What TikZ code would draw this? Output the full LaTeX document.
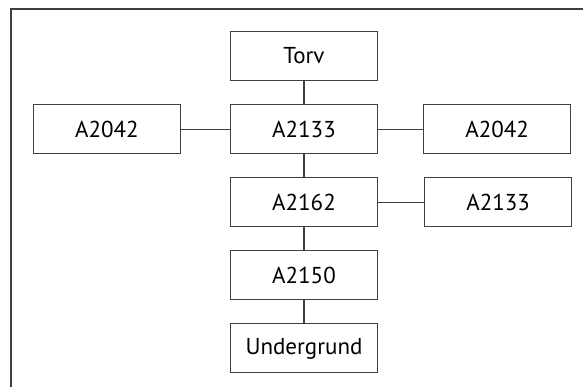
\documentclass[tikz,border=0pt]{standalone}
\usepackage{fontspec}
\setmainfont{PT Sans}
\usepackage{tikz}
\usetikzlibrary{positioning}
\definecolor{linegray}{HTML}{404040}
\tikzstyle{layer} = [rectangle, minimum width=147pt, minimum height=49pt, text centered, draw=linegray, line width=1.1pt, font=\fontsize{23}{27}\selectfont]
\tikzstyle{link} = [draw=linegray, line width=1.1pt]

\begin{document}
\begin{tikzpicture}[x=1pt, y=-1pt, node distance=23pt]
        \useasboundingbox (0,0) rectangle (583,387);
        \draw[link] (11,387) -- (11,9) -- (583,9);

        \node[layer] (torv) at (304,56) {Torv};
        \node[layer, below=of torv] (a2133) {A2133};
        \node[layer, below=of a2133] (a2162) {A2162};
        \node[layer, below=of a2162] (a2150) {A2150};
        \node[layer, below=of a2150] (under) {Undergrund};

        \node[layer, left=49pt of a2133] (a2042l) {A2042};
        \node[layer, right=45pt of a2133] (a2042r) {A2042};
        \node[layer, right=46pt of a2162] (a2133r) {A2133};

        \draw[link] (torv) -- (a2133);
        \draw[link] (a2133) -- (a2162);
        \draw[link] (a2162) -- (a2150);
        \draw[link] (a2150) -- (under);
        \draw[link] (a2042l) -- (a2133);
        \draw[link] (a2133) -- (a2042r);
        \draw[link] (a2162) -- (a2133r);

    \end{tikzpicture}
\end{document}
